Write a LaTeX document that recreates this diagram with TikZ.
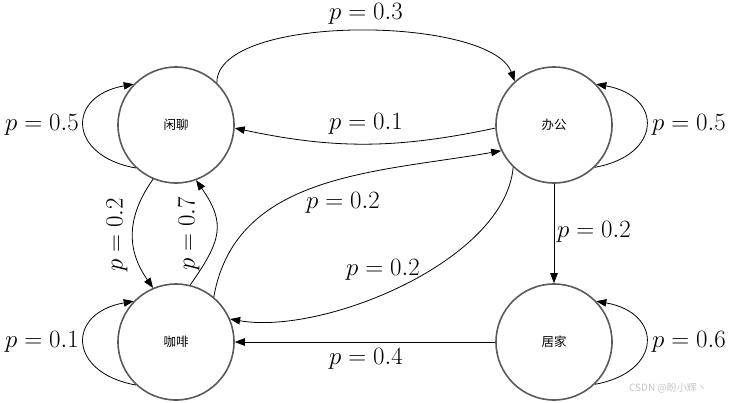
\documentclass[tikz,border=0pt]{standalone}
\usepackage{fontspec}
\usetikzlibrary{arrows.meta}
\newfontfamily\cjk{Noto Sans CJK SC}
\definecolor{ringgray}{HTML}{5A5A5A}
\definecolor{wmgray}{HTML}{C4C4C4}
\begin{document}
\begin{tikzpicture}[x=1pt,y=-1pt,
  state/.style={circle,draw=ringgray,line width=1.6pt,minimum size=116pt,inner sep=0pt,font=\cjk\fontsize{12.5}{14}\selectfont},
  edge/.style={draw=black,line width=0.8pt,-{Triangle[length=10pt,width=7.5pt]}},
  plabel/.style={font=\fontsize{23}{27}\selectfont,inner sep=0pt}]
\useasboundingbox (0,0) rectangle (730,402);
\node[state] (xl) at (176,125) {闲聊};
\node[state] (bg) at (554,125) {办公};
\node[state] (kf) at (176,342) {咖啡};
\node[state] (jj) at (554,342) {居家};

% self loops
\draw[edge] (xl.227) to[out=170,in=190,looseness=2.1] (xl.136);
\draw[edge] (bg.-46) to[out=10,in=-10,looseness=2.1] (bg.44);
\draw[edge] (kf.227) to[out=170,in=190,looseness=2.1] (kf.136);
\draw[edge] (jj.-46) to[out=10,in=-10,looseness=2.1] (jj.44);

% between states
\draw[edge] (xl.46) to[out=90,in=110,looseness=0.6] (bg.132);
\draw[edge] (bg.183) to[out=192,in=-12] (xl.357);
\draw[edge] (xl.247) to[out=235,in=125,looseness=1.1] (kf.113);
\draw[edge] (kf.76) to[out=55,in=-55,looseness=1.3] (xl.-70);
\draw[edge] (kf.50) to[out=80,in=190] (bg.206.6);
\draw[edge] (bg.226) to[out=265,in=-10,looseness=0.75] (kf.23);
\draw[edge] (bg.south) -- (jj.north);
\draw[edge] (jj.west) -- (kf.east);

% labels
\node[plabel] (l1) at (42,125) {$p=0.5$};
\node[plabel] (l2) at (689,125) {$p=0.5$};
\node[plabel] (l3) at (42,342) {$p=0.1$};
\node[plabel] (l4) at (689,342) {$p=0.6$};
\node[plabel] (l5) at (366,14) {$p=0.3$};
\node[plabel] (l6) at (366,124) {$p=0.1$};
\node[plabel,rotate=90] (l7) at (117,235) {$p=0.2$};
\node[plabel,rotate=90] (l8) at (189,234) {$p=0.7$};
\node[plabel] (l9) at (343,203) {$p=0.2$};
\node[plabel] (l10) at (383,270) {$p=0.2$};
\node[plabel] (l11) at (594,232) {$p=0.2$};
\node[plabel] (l12) at (366,359) {$p=0.4$};

\node[font=\cjk\fontsize{10}{12}\selectfont,text=wmgray,inner sep=0pt] (wm) at (668,388) {CSDN @盼小辉丶};
\end{tikzpicture}
\end{document}
